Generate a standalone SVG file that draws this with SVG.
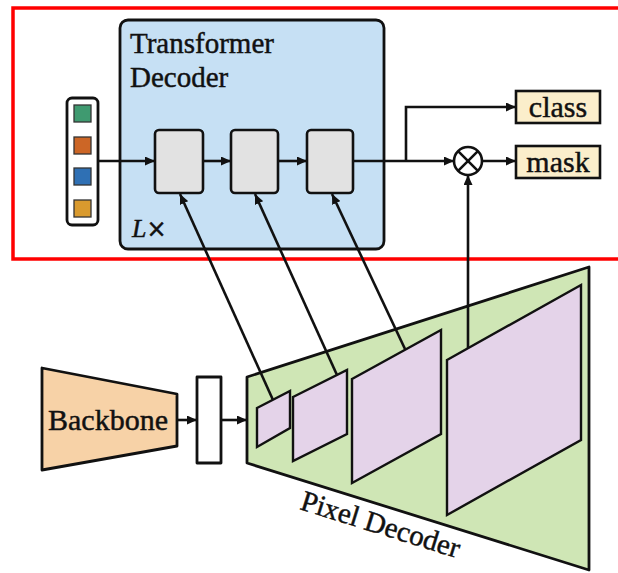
<svg xmlns="http://www.w3.org/2000/svg" width="618" height="573" viewBox="0 0 618 573">
  <style>
    text { font-family: "Liberation Serif", "DejaVu Serif", "Times New Roman", serif; fill: #111; stroke: #111; stroke-width: 0.45; }
    .edge { stroke: #111; stroke-width: 2.6; fill: none; }
    .frame { stroke: #111; stroke-width: 2.8; stroke-linejoin: round; }
    .layer { fill: #e2e2e2; stroke: #111; stroke-width: 2.6; }
    .fmap { fill: #e4d3e9; stroke: #111; stroke-width: 2.4; stroke-linejoin: miter; }
    .query { stroke: #333; stroke-width: 1.3; }
    .out { fill: #fbeecb; stroke: #111; stroke-width: 2.6; }
  </style>
  <defs>
    <marker id="arrow" markerUnits="userSpaceOnUse" markerWidth="10" markerHeight="9" refX="10" refY="4.5" orient="auto">
      <path d="M0,0 L10,4.5 L0,9 z" fill="#111"/>
    </marker>
  </defs>

  <rect width="618" height="573" fill="#ffffff"/>

  <!-- highlight frame around the transformer decoder part -->
  <rect id="highlight" x="13" y="8" width="620" height="251" fill="none" stroke="#ff0000" stroke-width="3.5"/>

  <g id="transformer-decoder">
    <rect class="frame" x="120" y="20" width="264" height="229" rx="8" fill="#c6e0f4"/>
    <text x="130" y="53" font-size="29">Transformer</text>
    <text x="130" y="87" font-size="29">Decoder</text>
    <text x="132" y="237" font-size="26"><tspan font-style="italic">L</tspan><tspan font-family="DejaVu Sans, sans-serif" font-size="24">×</tspan></text>
  </g>

  <g id="queries">
    <rect class="frame" x="67" y="98" width="31" height="127" rx="5" fill="#ffffff"/>
    <rect class="query" x="74" y="105" width="17" height="17" fill="#3f9a70"/>
    <rect class="query" x="74" y="137" width="17" height="17" fill="#cc6626"/>
    <rect class="query" x="74" y="168" width="17" height="17" fill="#2f70b4"/>
    <rect class="query" x="74" y="200" width="17" height="17" fill="#d99a2e"/>
  </g>

  <g id="layer-1"><rect class="layer" x="155" y="130" width="48" height="63" rx="4"/></g>
  <g id="layer-2"><rect class="layer" x="231" y="130" width="47" height="63" rx="4"/></g>
  <g id="layer-3"><rect class="layer" x="307" y="130" width="46" height="63" rx="4"/></g>

  <g id="multiply">
    <circle cx="468" cy="161" r="14" fill="#ffffff" stroke="#111" stroke-width="2.6"/>
    <path d="M458.1,151.1 L477.9,170.9 M477.9,151.1 L458.1,170.9" stroke="#111" stroke-width="2.6"/>
  </g>

  <g id="class-out">
    <rect class="out" x="516" y="91" width="84" height="32"/>
    <text x="558" y="117" font-size="30" text-anchor="middle">class</text>
  </g>
  <g id="mask-out">
    <rect class="out" x="516" y="146" width="84" height="32"/>
    <text x="558" y="172" font-size="30" text-anchor="middle">mask</text>
  </g>

  <g id="backbone">
    <polygon class="frame" points="42,368 177,394 177,446 42,470" fill="#f7d2a7"/>
    <text x="108" y="430" font-size="30" text-anchor="middle">Backbone</text>
  </g>

  <g id="feature">
    <rect class="frame" x="197" y="377" width="24" height="86" fill="#ffffff"/>
  </g>

  <g id="pixel-decoder">
    <polygon class="frame" points="247,377 589,267 589,570 247,463" fill="#cfe6b5" stroke-width="3.2"/>
    <polygon class="fmap" points="257,408 290,391 290,428 257,447"/>
    <polygon class="fmap" points="293,397 347,370 347,434 293,461"/>
    <polygon class="fmap" points="352,379 441,330 441,434 352,483"/>
    <polygon class="fmap" points="447,360 581,285 581,440 447,515"/>
    <text x="299" y="509" font-size="29" transform="rotate(17.3 299 509)">Pixel Decoder</text>
  </g>

  <g id="connectors">
    <line class="edge" x1="98" y1="161" x2="155" y2="161" marker-end="url(#arrow)"/>
    <line class="edge" x1="203" y1="161" x2="231" y2="161" marker-end="url(#arrow)"/>
    <line class="edge" x1="278" y1="161" x2="307" y2="161" marker-end="url(#arrow)"/>
    <line class="edge" x1="353" y1="161" x2="454" y2="161" marker-end="url(#arrow)"/>
    <polyline class="edge" points="406,161 406,107 516,107" marker-end="url(#arrow)"/>
    <line class="edge" x1="482" y1="161" x2="516" y2="161" marker-end="url(#arrow)"/>
    <line class="edge" x1="468" y1="348" x2="468" y2="175" marker-end="url(#arrow)"/>
    <line class="edge" x1="273" y1="400" x2="180" y2="194" marker-end="url(#arrow)"/>
    <line class="edge" x1="337" y1="375" x2="255" y2="194" marker-end="url(#arrow)"/>
    <line class="edge" x1="405" y1="349" x2="332" y2="194" marker-end="url(#arrow)"/>
    <line class="edge" x1="177" y1="420" x2="197" y2="420" marker-end="url(#arrow)"/>
    <line class="edge" x1="221" y1="420" x2="247" y2="420" marker-end="url(#arrow)"/>
  </g>
</svg>
